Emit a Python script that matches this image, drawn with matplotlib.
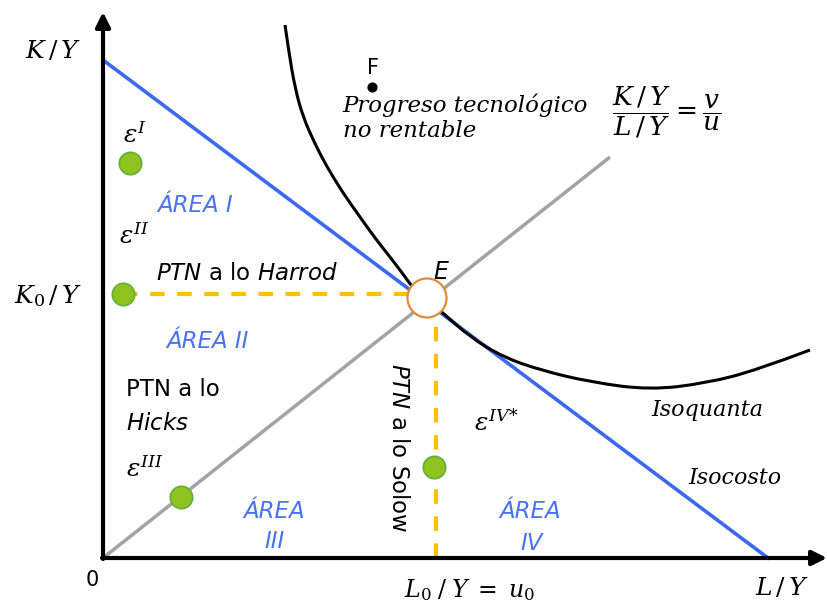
import matplotlib
matplotlib.use("Agg")
import matplotlib.pyplot as plt
from matplotlib.patches import Circle, PathPatch
from matplotlib.path import Path

plt.rcParams['mathtext.fontset'] = 'dejavuserif'

# ---- data (origin at the corner of the axes, units = picture pixels) ----
isocost_x = [0, 665]
isocost_y = [498, 0]

ray_x = [0, 507]
ray_y = [0, 401]

isoquant_x = [182, 186, 192, 200, 212, 224, 240, 257, 272, 287, 300, 310, 324, 339, 367, 400, 437, 487, 547, 604, 654, 707]
isoquant_y = [533, 505, 470, 441, 414, 391, 365, 341, 320, 301, 284, 270, 258, 246, 221, 201, 188, 176, 168, 175, 188, 208]

E_point = (324, 260)
L0_x = 333
K0_y = 264
F_point = (269, 471)

dots_x = [27, 20, 78, 331]
dots_y = [395, 264, 61, 91]

BLUE = '#3D68F2'
BLUE_TXT = '#4A73F0'
YELLOW = '#FFC000'

fig = plt.figure(figsize=(8.27, 6.07), dpi=100)
ax = fig.add_axes([0, 0, 1, 1])
ax.set_xlim(-103, 724)
ax.set_ylim(-49, 558)
ax.axis('off')

def T(px, py, s, **kw):
    kw.setdefault('ha', 'center')
    kw.setdefault('va', 'center')
    ax.text(px - 103, 558 - py, s, **kw)

# axes with arrows
ax.annotate('', xy=(0, 546), xytext=(0, -1),
            arrowprops=dict(arrowstyle='-|>', lw=3, color='black', mutation_scale=22,
                            shrinkA=0, shrinkB=0), zorder=6)
ax.annotate('', xy=(724, 0), xytext=(-1, 0),
            arrowprops=dict(arrowstyle='-|>', lw=3, color='black', mutation_scale=22,
                            shrinkA=0, shrinkB=0), zorder=6)

# lines
ax.plot(ray_x, ray_y, color='#A3A3A3', lw=2.5, zorder=2, solid_capstyle='butt')
ax.plot(isocost_x, isocost_y, color=BLUE, lw=2.6, zorder=3)

# isoquant: smooth path through the read points (quadratic Bezier segments)
pts = list(zip(isoquant_x, isoquant_y))
verts = [pts[0]]
codes = [Path.MOVETO]
for i in range(1, len(pts) - 1):
    mid = ((pts[i][0] + pts[i + 1][0]) / 2, (pts[i][1] + pts[i + 1][1]) / 2)
    if i == len(pts) - 2:
        mid = pts[-1]
    verts += [pts[i], mid]
    codes += [Path.CURVE3, Path.CURVE3]
ax.add_patch(PathPatch(Path(verts, codes), facecolor='none', edgecolor='black',
                       lw=2.2, zorder=4))

# dashed guides
ax.plot([dots_x[1], E_point[0]], [K0_y, K0_y], color=YELLOW, lw=3,
        dashes=(3.5, 3), zorder=2)
ax.plot([L0_x, L0_x], [0, E_point[1]], color=YELLOW, lw=3,
        dashes=(3.5, 3), zorder=2)

# E circle
ax.add_patch(Circle(E_point, 19.5, facecolor='white', edgecolor='#E08A3C', lw=1.6, zorder=7))

# green dots
ax.scatter(dots_x, dots_y, s=260, color='#8DC21F', edgecolors='#62B03C',
           linewidths=1.2, zorder=8)
# F point
ax.scatter([F_point[0]], [F_point[1]], s=40, color='black', zorder=8)

serif_it = dict(family='DejaVu Serif', style='italic')

# axis labels
T(53, 51, r'$K\,/\,Y$', fontsize=18)
T(48, 296, r'$K_0\,/\,Y$', fontsize=18)
T(92, 580, '0', fontsize=15, family='DejaVu Sans')
T(470, 590, r'$L_0\;/\;Y\;=\;u_0$', fontsize=17)
T(782, 588, r'$L\,/\,Y$', fontsize=18)

# epsilons
T(135, 135, r'$\varepsilon^{I}$', fontsize=18)
T(134, 236, r'$\varepsilon^{II}$', fontsize=18)
T(145, 469, r'$\varepsilon^{III}$', fontsize=18)
T(497, 422, r'$\varepsilon^{IV\!*}$', fontsize=18)

# area labels
sans_it = dict(family='DejaVu Sans', style='italic', color=BLUE_TXT, fontsize=16.5)
T(195, 205, 'ÁREA I', **sans_it)
T(207, 341, 'ÁREA II', **sans_it)
T(274, 512, 'ÁREA', **sans_it)
T(275, 541, 'III', **sans_it)
T(530, 512, 'ÁREA', **sans_it)
T(532, 544, 'IV', **sans_it)

# PTN labels
sans = dict(family='DejaVu Sans', fontsize=16.5, math_fontfamily='dejavusans')
T(247, 273, r'$\mathit{PTN}$ a lo $\mathit{Harrod}$', **sans)
T(126, 389, 'PTN a lo', ha='left', **sans)
T(126, 424, r'$\mathit{Hicks}$', ha='left', **sans)
T(398, 448, r'$\mathit{PTN}$ a lo Solow', rotation=-90, **sans)

# E, F
T(441, 272, 'E', fontsize=17, family='DejaVu Sans', style='italic')
T(373, 68, 'F', fontsize=15, family='DejaVu Sans')

# text top
T(342, 105, 'Progreso tecnológico', ha='left', fontsize=16.5, **serif_it)
T(343, 131, 'no rentable', ha='left', fontsize=16.5, **serif_it)
T(667, 112, r'$\dfrac{K\,/\,Y}{L\,/\,Y}=\dfrac{v}{u}$', fontsize=19)

T(707, 410, 'Isoquanta', fontsize=16, **serif_it)
T(735, 478, 'Isocosto', fontsize=16, **serif_it)

fig.savefig('out.png', dpi=100)
